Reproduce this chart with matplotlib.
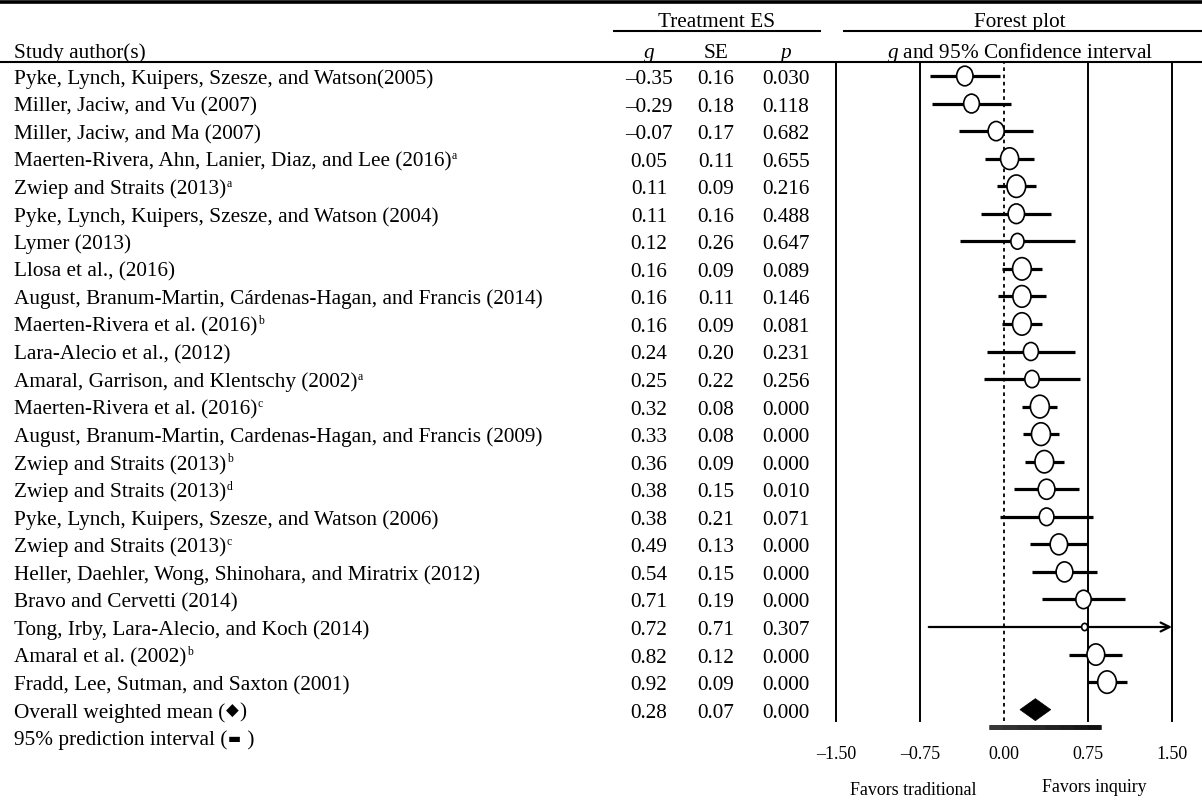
import numpy as np
import matplotlib
matplotlib.use('Agg')
import matplotlib.pyplot as plt
from matplotlib.patches import Ellipse, Polygon

plt.rcParams['font.family'] = ['Liberation Serif', 'DejaVu Sans']
plt.rcParams['mathtext.fontset'] = 'custom'
plt.rcParams['mathtext.rm'] = 'Liberation Serif'
plt.rcParams['mathtext.it'] = 'Liberation Serif:italic'
plt.rcParams['mathtext.bf'] = 'Liberation Serif:bold'

# ---------------- data ----------------
studies = [
    "Pyke, Lynch, Kuipers, Szesze, and Watson(2005)",
    "Miller, Jaciw, and Vu (2007)",
    "Miller, Jaciw, and Ma (2007)",
    "Maerten-Rivera, Ahn, Lanier, Diaz, and Lee (2016)",
    "Zwiep and Straits (2013)",
    "Pyke, Lynch, Kuipers, Szesze, and Watson (2004)",
    "Lymer (2013)",
    "Llosa et al., (2016)",
    "August, Branum-Martin, Cárdenas-Hagan, and Francis (2014)",
    "Maerten-Rivera et al. (2016)",
    "Lara-Alecio et al., (2012)",
    "Amaral, Garrison, and Klentschy (2002)",
    "Maerten-Rivera et al. (2016)",
    "August, Branum-Martin, Cardenas-Hagan, and Francis (2009)",
    "Zwiep and Straits (2013)",
    "Zwiep and Straits (2013)",
    "Pyke, Lynch, Kuipers, Szesze, and Watson (2006)",
    "Zwiep and Straits (2013)",
    "Heller, Daehler, Wong, Shinohara, and Miratrix (2012)",
    "Bravo and Cervetti (2014)",
    "Tong, Irby, Lara-Alecio, and Koch (2014)",
    "Amaral et al. (2002)",
    "Fradd, Lee, Sutman, and Saxton (2001)",
]
superscripts = ["", "", "", "a", "a", "", "", "", "", "b", "", "a",
                "c", "", "b", "d", "", "c", "", "", "", "b", ""]
g_vals = [-0.35, -0.29, -0.07, 0.05, 0.11, 0.11, 0.12, 0.16, 0.16, 0.16, 0.24, 0.25,
          0.32, 0.33, 0.36, 0.38, 0.38, 0.49, 0.54, 0.71, 0.72, 0.82, 0.92]
se_vals = [0.16, 0.18, 0.17, 0.11, 0.09, 0.16, 0.26, 0.09, 0.11, 0.09, 0.20, 0.22,
           0.08, 0.08, 0.09, 0.15, 0.21, 0.13, 0.15, 0.19, 0.71, 0.12, 0.09]
p_vals = [0.030, 0.118, 0.682, 0.655, 0.216, 0.488, 0.647, 0.089, 0.146, 0.081, 0.231, 0.256,
          0.000, 0.000, 0.000, 0.010, 0.071, 0.000, 0.000, 0.000, 0.307, 0.000, 0.000]
overall_g, overall_se, overall_p = 0.28, 0.07, 0.000
pi_low, pi_high = -0.13, 0.87
xticks = [-1.5, -0.75, 0.0, 0.75, 1.5]
xtick_labels = ["–1.50", "–0.75", "0.00", "0.75", "1.50"]

# ---------------- layout ----------------
W, H = 1202, 803
fig = plt.figure(figsize=(W / 100, H / 100), dpi=100)
ax0 = fig.add_axes([0, 0, 1, 1])
ax0.set_xlim(0, W)
ax0.set_ylim(H, 0)
ax0.axis('off')
renderer = fig.canvas.get_renderer()

FS = 15.3
FS_SMALL = 12.9
ROW0, DY = 77, 27.55
BASE = 7.0


def row_y(i):
    return ROW0 + DY * i


def fmt2(v):
    s = f"{abs(v):.2f}"
    return ("–" + s) if v < 0 else s


def runs(x, y, pieces):
    """Draw consecutive text pieces: (text, fontsize, dy, family)."""
    for txt, fs, dy, fam in pieces:
        kw = dict(fontsize=fs, ha='left', va='baseline')
        if fam is not None:
            kw['family'] = fam
        t = ax0.text(x, y + dy, txt, **kw)
        bb = t.get_window_extent(renderer=renderer)
        x = bb.x1 + 0.5


X_NAME, X_G, X_SE, X_P = 14, 649, 716, 786

# header rules
ax0.plot([0, W], [2.5, 2.5], color='black', lw=2.6, solid_capstyle='butt')
ax0.plot([613, 821], [32, 32], color='black', lw=1.5, solid_capstyle='butt')
ax0.plot([843, W], [32, 32], color='black', lw=1.5, solid_capstyle='butt')
ax0.plot([0, W], [63, 63], color='black', lw=1.5, solid_capstyle='butt')

ax0.text(717, 27, "Treatment ES", fontsize=FS, ha='center', va='baseline')
ax0.text(1020, 27, "Forest plot", fontsize=FS, ha='center', va='baseline')
ax0.text(X_NAME, 58, "Study author(s)", fontsize=FS, ha='left', va='baseline')
ax0.text(X_G, 58, r"$\mathit{g}$", fontsize=FS, ha='center', va='baseline')
ax0.text(X_SE, 58, "SE", fontsize=FS, ha='center', va='baseline')
ax0.text(X_P, 58, r"$\mathit{p}$", fontsize=FS, ha='center', va='baseline')
ax0.text(1020, 58, r"$\mathit{g}$ and 95% Confidence interval", fontsize=FS,
         ha='center', va='baseline')

for i, name in enumerate(studies):
    y = row_y(i) + BASE
    pieces = [(name, FS, 0, None)]
    if superscripts[i]:
        pieces.append((superscripts[i], FS * 0.55, -7.5, None))
    runs(X_NAME, y, pieces)
    ax0.text(X_G, y, fmt2(g_vals[i]), fontsize=FS, ha='center', va='baseline')
    ax0.text(X_SE, y, f"{se_vals[i]:.2f}", fontsize=FS, ha='center', va='baseline')
    ax0.text(X_P, y, f"{p_vals[i]:.3f}", fontsize=FS, ha='center', va='baseline')

n = len(studies)
y = row_y(n) + BASE
runs(X_NAME, y, [("Overall weighted mean (", FS, 0, None),
                 ("◆", 12, -1.5, 'DejaVu Sans'),
                 (")", FS, 0, None)])
ax0.text(X_G, y, fmt2(overall_g), fontsize=FS, ha='center', va='baseline')
ax0.text(X_SE, y, f"{overall_se:.2f}", fontsize=FS, ha='center', va='baseline')
ax0.text(X_P, y, f"{overall_p:.3f}", fontsize=FS, ha='center', va='baseline')
y = row_y(n + 1) + BASE
runs(X_NAME, y, [("95% prediction interval (", FS, 0, None),
                 ("▬", 10, -2.5, 'DejaVu Sans'),
                 (" )", FS, 0, None)])

ax0.text(913, 795, "Favors traditional", fontsize=FS_SMALL, ha='center', va='baseline')
ax0.text(1094, 792, "Favors inquiry", fontsize=FS_SMALL, ha='center', va='baseline')

# ---------------- forest axes ----------------
top_px, bot_px = 63, 722
left_px, right_px = 836, 1172
axf = fig.add_axes([left_px / W, 1 - bot_px / H, (right_px - left_px) / W, (bot_px - top_px) / H])
axf.set_xlim(-1.5, 1.5)
axf.set_ylim((bot_px - ROW0) / DY, (top_px - ROW0) / DY)
axf.patch.set_visible(False)
for s in axf.spines.values():
    s.set_visible(False)

for v in [-1.5, -0.75, 0.75, 1.5]:
    axf.axvline(v, color='black', lw=1.4, clip_on=False, zorder=1)
axf.axvline(0.0, color='black', lw=1.3, ls=(0, (2, 2)), zorder=1)

px_per_x = (right_px - left_px) / 3.0
px_per_row = DY
tau2 = 0.05
for i in range(n):
    gv, sv = g_vals[i], se_vals[i]
    lo, hi = gv - 1.96 * sv, gv + 1.96 * sv
    if hi > 1.5:
        axf.annotate("", xy=(1.5, i), xytext=(lo, i),
                     arrowprops=dict(arrowstyle='->', color='black', lw=1.6,
                                     mutation_scale=16, shrinkA=0, shrinkB=0),
                     zorder=2)
    else:
        axf.plot([lo, hi], [i, i], color='black', lw=2.3, solid_capstyle='butt', zorder=2)
    w_px = 4.5 * np.sqrt(1.0 / (sv ** 2 + tau2))
    h_px = 1.2 * w_px
    axf.add_patch(Ellipse((gv, i), w_px / px_per_x, h_px / px_per_row,
                          facecolor='white', edgecolor='black', lw=1.2, zorder=3))

# overall diamond
lo, hi = overall_g - 1.96 * overall_se, overall_g + 1.96 * overall_se
hh = 11 / px_per_row
axf.add_patch(Polygon([(lo, n), (overall_g, n - hh), (hi, n), (overall_g, n + hh)],
                      closed=True, facecolor='black', edgecolor='black', lw=0.5,
                      clip_on=False, zorder=3))

# prediction interval bar (dark gradient)
pi_row = n + 17 / px_per_row
axf.plot([pi_low, pi_high], [pi_row, pi_row], color='0.12', lw=3.4,
         solid_capstyle='butt', clip_on=False, zorder=3)
edges = np.linspace(pi_low, pi_high, 9)
shades = np.linspace(0.22, 0.07, 8)
for k in range(8):
    axf.plot([edges[k], edges[k + 1]], [pi_row, pi_row], color=str(shades[k]),
             lw=3.4, solid_capstyle='butt', clip_on=False, zorder=4)

axf.set_xticks(xticks)
axf.set_xticklabels(xtick_labels, fontsize=FS_SMALL)
axf.tick_params(axis='x', length=0, pad=17)
axf.set_yticks([])

fig.savefig("out.png", dpi=100)
